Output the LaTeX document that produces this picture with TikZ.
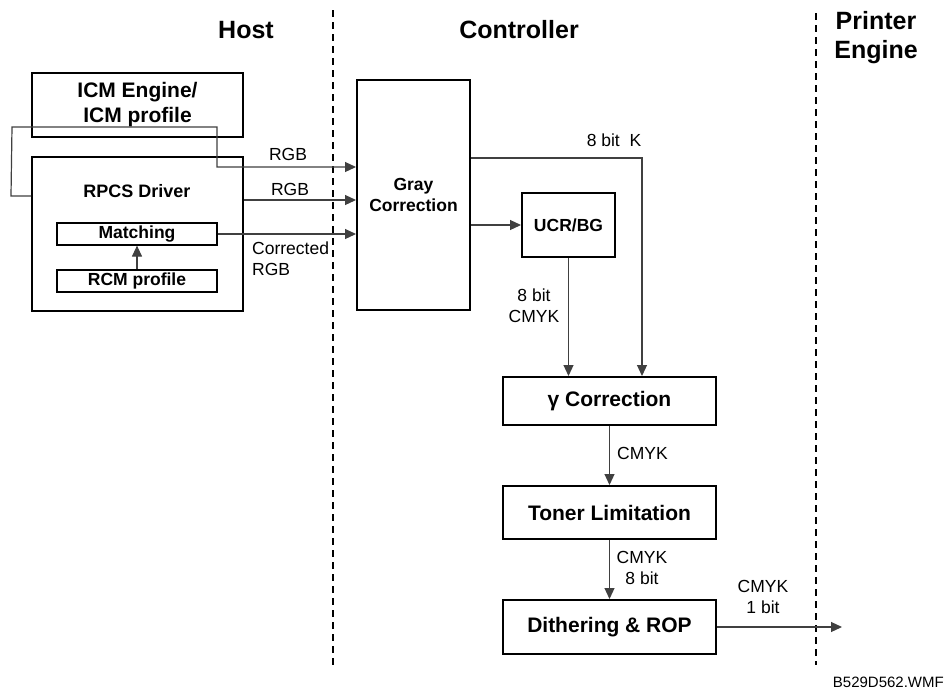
\documentclass[tikz,border=0pt]{standalone}
\usepackage{fontspec}
\setmainfont{Liberation Sans}
\usetikzlibrary{arrows.meta,calc}
\begin{document}
\begin{tikzpicture}[x=1pt,y=-1pt,
 box/.style={draw, line width=2pt, inner sep=0pt, align=center, font=\bfseries\fontsize{17.5}{21}\selectfont},
 bigbox/.style={box, font=\bfseries\fontsize{21}{25}\selectfont},
 thinbox/.style={draw, line width=1.2pt, inner sep=0pt, font=\bfseries\fontsize{17.5}{21}\selectfont},
 conn/.style={line width=1.2pt, draw=black!75},
 arr/.style={conn, -{Triangle[length=11pt,width=10pt]}},
 lbl/.style={font=\fontsize{17.5}{21}\selectfont, inner sep=0pt, align=center},
 hdr/.style={font=\bfseries\fontsize{25}{29}\selectfont, inner sep=0pt, align=center},
 divider/.style={line width=2pt, dash pattern=on 7pt off 5pt}]
\useasboundingbox (0,0) rectangle (948,694);
\fill[white] (0,0) rectangle (948,694);

% headers
\node[hdr] (hhost) at (246,30) {Host};
\node[hdr] (hctrl) at (519,30) {Controller};
\node[hdr] (heng) at (876,38) {Printer\\Engine};

% dividers
\coordinate (d1a) at (333,10);
\coordinate (d1b) at (333,665);
\coordinate (d2a) at (816,13);
\coordinate (d2b) at (816,665);
\draw[divider] (d1a) -- (d1b);
\draw[divider] (d2a) -- (d2b);

% host boxes
\node[bigbox, minimum width=211pt, minimum height=64pt] (icm) at (137.5,105) {ICM Engine/\\ICM profile};
\node[box, minimum width=211pt, minimum height=154pt] (rpcs) at (137.5,234) {};
\node[font=\bfseries\fontsize{18}{21}\selectfont, inner sep=0pt] (rpcslbl) at (137,191) {RPCS Driver};
\node[thinbox, minimum width=160pt, minimum height=22pt] (match) at (137,234) {Matching};
\node[thinbox, minimum width=160pt, minimum height=22pt] (rcm) at (137,281) {RCM profile};

% controller boxes
\node[box, minimum width=113pt, minimum height=230pt] (gray) at (413.5,195) {Gray\\Correction};
\node[box, minimum width=93pt, minimum height=64pt] (ucr) at (568.5,225) {UCR/BG};
\node[bigbox, minimum width=213pt, minimum height=48pt] (gamma) at (609.5,401) {γ Correction};
\node[bigbox, minimum width=213pt, minimum height=53pt] (toner) at (609.5,512.5) {Toner Limitation};
\node[bigbox, minimum width=213pt, minimum height=54pt] (dither) at (609.5,627) {Dithering \& ROP};

% connectors
\draw[arr] (rcm.north) -- (match.south);
\coordinate (k1) at (217,127);
\coordinate (lp) at (12,127);
\draw[arr] ([yshift=38pt]rpcs.west) -- ++(-20,0) -- (lp) -- (k1) |- ([yshift=28pt]gray.west);
\coordinate (r2) at ([yshift=34pt]rpcs.east);
\draw[arr] (r2) -- (r2 -| gray.west);
\draw[arr] (match.east) -- (match.east -| gray.west);
\coordinate (k) at ([yshift=37pt]gray.east);
\draw[arr] (k) -| ([xshift=32.5pt]gamma.north);
\draw[arr] (ucr.west -| gray.east) -- (ucr.west);
\draw[arr] (ucr.south) -- (ucr.south |- gamma.north);
\draw[arr] (gamma.south) -- (toner.north);
\draw[arr] (toner.south) -- (dither.north);
\coordinate (out) at (842,627);
\draw[arr] (dither.east) -- (out);

% labels
\node[lbl] (l1) at (288,154) {RGB};
\node[lbl] (l2) at (290,189) {RGB};
\node[lbl, align=left, anchor=west] (l3) at (252,259) {Corrected\\RGB};
\node[lbl] (l4) at (614,140) {8 bit\ \ K};
\node[lbl] (l5) at (534,306) {8 bit\\CMYK};
\node[lbl, anchor=west] (l6) at (617,453) {CMYK};
\node[lbl] (l7) at (642,568) {CMYK\\8 bit};
\node[lbl] (l8) at (763,597) {CMYK\\1 bit};
\node[font=\fontsize{15}{18}\selectfont, inner sep=0pt, anchor=east] (fname) at (944,682) {B529D562.WMF};
\end{tikzpicture}
\end{document}
